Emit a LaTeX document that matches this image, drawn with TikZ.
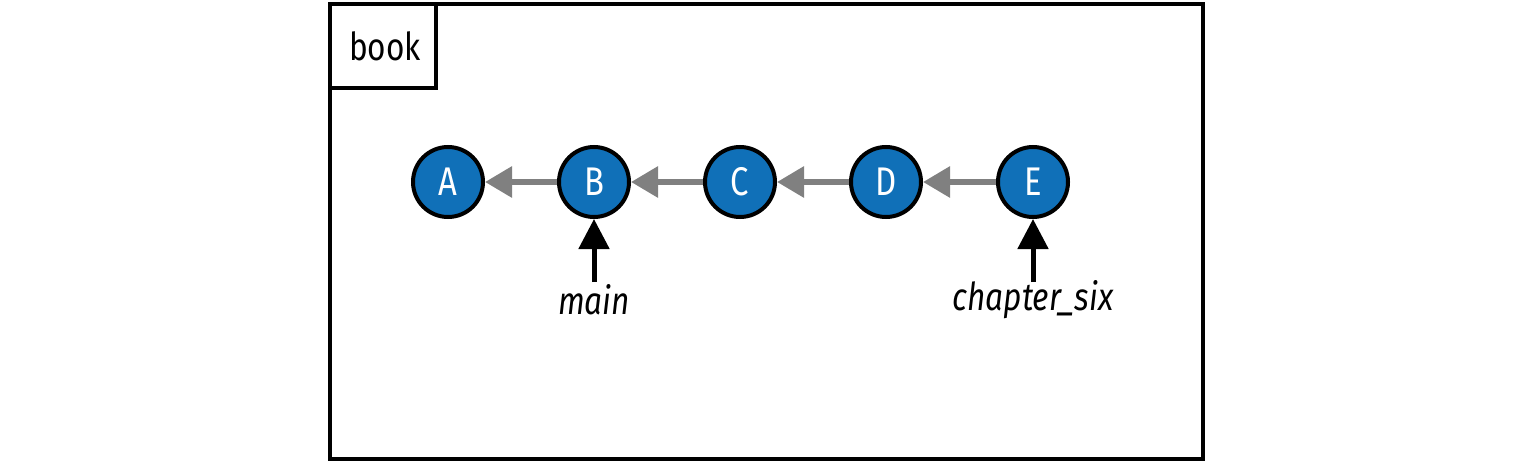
\documentclass[tikz,border=0pt]{standalone}
\usepackage{fontspec}
\setmainfont{Fira Sans}[FakeStretch=0.82]
\usetikzlibrary{arrows.meta}

\definecolor{commitblue}{HTML}{1070B8}
\tikzset{
  commit/.style={circle,draw=black,line width=4pt,fill=commitblue,minimum size=70pt,inner sep=0pt,text=white,font=\fontsize{40}{44}\selectfont},
  parent/.style={draw=gray,line width=6pt,-{Triangle[length=27pt,width=30pt]}},
  pointer/.style={draw=black,line width=5pt,-{Triangle[length=30pt,width=30pt]}},
  reflabel/.style={font=\fontsize{38.5}{42}\selectfont\itshape,inner sep=0pt}
}

\begin{document}
\begin{tikzpicture}[x=1pt,y=-1pt]
  \useasboundingbox (0,0) rectangle (1535,463);
  % repository frame
  \draw[line width=4pt] (330,4) rectangle (1203,459);
  \draw[line width=4pt] (330,4) rectangle (436,88);
  \node[font=\fontsize{38.5}{42}\selectfont] (repo) at (385,46) {book};

  % commits
  \node[commit] (A) at (448,182) {A};
  \node[commit] (B) at (594,182) {B};
  \node[commit] (C) at (740,182) {C};
  \node[commit] (D) at (886,182) {D};
  \node[commit] (E) at (1033,182) {E};
  \foreach \from/\to in {B/A,C/B,D/C,E/D}
    \draw[parent] (\from) -- (\to);

  % branches
  \node[reflabel] (main) at (594,300) {main};
  \node[reflabel] (six) at (1033,300) {chapter\_six};
  \coordinate (mainfoot) at (594,282);
  \coordinate (sixfoot) at (1033,282);
  \draw[pointer] (mainfoot) -- (B);
  \draw[pointer] (sixfoot) -- (E);
\end{tikzpicture}
\end{document}
